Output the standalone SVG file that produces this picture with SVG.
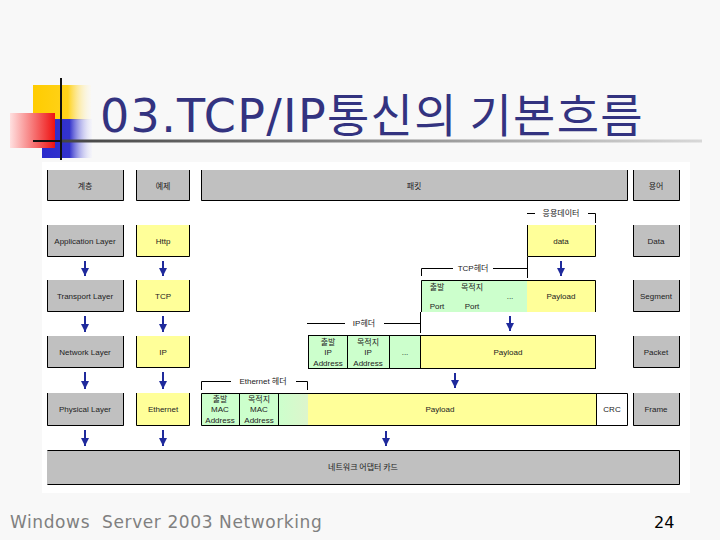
<svg xmlns="http://www.w3.org/2000/svg" width="720" height="540" viewBox="0 0 720 540">
<defs>
<linearGradient id="gY" x1="0" y1="0" x2="1" y2="0"><stop offset="0" stop-color="#ffcc00"/><stop offset="0.6" stop-color="#ffd21a"/><stop offset="1" stop-color="#fff8e0" stop-opacity="0.2"/></linearGradient>
<linearGradient id="gB" x1="0" y1="0" x2="1" y2="0"><stop offset="0" stop-color="#2a2acc"/><stop offset="0.55" stop-color="#3333cc"/><stop offset="1" stop-color="#e8e8ff" stop-opacity="0.2"/></linearGradient>
<linearGradient id="gR" x1="0" y1="0" x2="1" y2="0"><stop offset="0" stop-color="#ffe0e0"/><stop offset="1" stop-color="#ee1111"/></linearGradient>
<linearGradient id="gL" x1="0" y1="0" x2="1" y2="0"><stop offset="0" stop-color="#444444"/><stop offset="1" stop-color="#d8d8d8"/></linearGradient>
<linearGradient id="gG" x1="0" y1="0" x2="1" y2="0"><stop offset="0" stop-color="#ccffcc"/><stop offset="1" stop-color="#ddf5cc"/></linearGradient>
<marker id="ah" viewBox="0 0 8 8" refX="8" refY="4" markerWidth="8" markerHeight="8" markerUnits="userSpaceOnUse" orient="auto">
<path d="M0,0 L8,4 L0,8 Z" fill="#1f2a9c"/>
</marker>
</defs>
<style>
.gray{fill:#c0c0c0}
.yel{fill:#ffff99}
.grn{fill:#ccffcc}
.edge{fill:none;stroke:#000;stroke-width:1}
.box{stroke:#000;stroke-width:1}
.t{font-family:"Liberation Sans","Noto Sans CJK KR",sans-serif;font-size:8px;fill:#222;text-anchor:middle}
.k{font-family:"Noto Sans CJK KR","Liberation Sans",sans-serif;font-size:8px;fill:#222;text-anchor:middle}
.arr{stroke:#1f2a9c;stroke-width:2;fill:none;marker-end:url(#ah)}
.ann{stroke:#000;stroke-width:1;fill:none}
</style>
<rect x="0" y="0" width="720" height="540" fill="#f8f8f8"/>

<!-- logo -->
<g id="logo">
<rect x="33" y="85" width="58" height="35" fill="url(#gY)"/>
<rect x="42" y="119" width="50" height="39" fill="url(#gB)"/>
<rect x="10" y="113" width="45" height="35" fill="url(#gR)"/>
<rect x="60" y="78" width="2" height="82" fill="#111"/>
<rect x="33" y="140" width="30" height="2" fill="#111"/>
<rect x="62" y="139.5" width="640" height="3" fill="url(#gL)"/>
</g>
<text id="title" x="100" y="132" font-family="DejaVu Sans,'Noto Sans CJK KR',sans-serif" font-size="46" letter-spacing="1.3" fill="#333380">03.TCP/IP<tspan font-family="'Noto Sans CJK KR',sans-serif">통신의 기본흐름</tspan></text>

<!-- diagram area -->
<rect x="42" y="162" width="648" height="331" fill="#ffffff"/>

<!-- header row -->
<g id="h-layer"><rect class="gray" x="47" y="170" width="77" height="31"/><path class="edge" d="M47.5,170 V200.5 H123.5 V170"/><text class="k" x="85" y="189">계층</text></g>
<g id="h-ex"><rect class="gray" x="136" y="170" width="54" height="31"/><path class="edge" d="M136.5,170 V200.5 H189.5 V170"/><text class="k" x="163" y="189">예제</text></g>
<g id="h-packet"><rect class="gray" x="201" y="170" width="427" height="31"/><path class="edge" d="M201.5,170 V200.5 H627.5 V170"/><text class="k" x="414" y="189">패킷</text></g>
<g id="h-term"><rect class="gray" x="633" y="170" width="47" height="31"/><path class="edge" d="M633.5,170 V200.5 H679.5 V170"/><text class="k" x="656" y="189">용어</text></g>

<!-- row 1 -->
<g id="app-layer"><rect class="gray" x="47" y="225" width="77" height="32"/><path class="edge" d="M47.5,225 V256.5 H123.5 V225"/><text class="t" x="85" y="244">Application Layer</text></g>
<g id="http"><rect class="yel" x="136" y="225" width="54" height="32"/><path class="edge" d="M136.5,225 V256.5 H189.5 V225"/><text class="t" x="163" y="244">Http</text></g>
<g id="data"><rect class="yel" x="527" y="225" width="69" height="32"/><path class="edge" d="M527.5,225 V256.5 H595.5 V225"/><text class="t" x="561" y="244">data</text></g>
<g id="t-data"><rect class="gray" x="633" y="225" width="47" height="32"/><path class="edge" d="M633.5,225 V256.5 H679.5 V225"/><text class="t" x="656" y="244">Data</text></g>

<!-- row 2 -->
<g id="transport-layer"><rect class="gray" x="47" y="280" width="77" height="32"/><path class="edge" d="M47.5,280 V311.5 H123.5 V280"/><text class="t" x="85" y="299">Transport Layer</text></g>
<g id="tcp"><rect class="yel" x="136" y="280" width="54" height="32"/><path class="edge" d="M136.5,280 V311.5 H189.5 V280"/><text class="t" x="163" y="299">TCP</text></g>
<g id="segment">
<rect class="grn" x="421" y="280" width="106" height="32"/>
<rect class="yel" x="527" y="280" width="69" height="32"/>
<path class="edge" d="M421.5,312 V280.5 H595.5 V312"/>
<text class="k" x="437" y="290">출발</text><text class="t" x="437" y="309">Port</text>
<text class="k" x="472" y="290">목적지</text><text class="t" x="472" y="309">Port</text>
<text class="t" x="510" y="299">...</text>
<text class="t" x="561" y="299">Payload</text>
</g>
<g id="t-segment"><rect class="gray" x="633" y="280" width="47" height="32"/><path class="edge" d="M633.5,280 V311.5 H679.5 V280"/><text class="t" x="656" y="299">Segment</text></g>

<!-- row 3 -->
<g id="network-layer"><rect class="gray" x="47" y="336" width="77" height="32"/><path class="edge" d="M47.5,336 V367.5 H123.5 V336"/><text class="t" x="85" y="355">Network Layer</text></g>
<g id="ip"><rect class="yel" x="136" y="336" width="54" height="32"/><path class="edge" d="M136.5,336 V367.5 H189.5 V336"/><text class="t" x="163" y="355">IP</text></g>
<g id="packet">
<rect class="grn box" x="308.5" y="335.5" width="39" height="33"/>
<rect class="grn box" x="347.5" y="335.5" width="42" height="33"/>
<rect class="grn box" x="389.5" y="335.5" width="31" height="33"/>
<rect class="yel box" x="420.5" y="335.5" width="175" height="33"/>
<text class="k" x="328" y="345">출발</text><text class="t" x="328" y="355">IP</text><text class="t" x="328" y="366">Address</text>
<text class="k" x="368" y="345">목적지</text><text class="t" x="368" y="355">IP</text><text class="t" x="368" y="366">Address</text>
<text class="t" x="405" y="355">...</text>
<text class="t" x="508" y="355">Payload</text>
</g>
<g id="t-packet"><rect class="gray" x="633" y="336" width="47" height="32"/><path class="edge" d="M633.5,336 V367.5 H679.5 V336"/><text class="t" x="656" y="355">Packet</text></g>

<!-- row 4 -->
<g id="physical-layer"><rect class="gray" x="47" y="393" width="77" height="33"/><path class="edge" d="M47.5,393 V425.5 H123.5 V393"/><text class="t" x="85" y="412">Physical Layer</text></g>
<g id="ethernet"><rect class="yel" x="136" y="393" width="54" height="33"/><path class="edge" d="M136.5,393 V425.5 H189.5 V393"/><text class="t" x="163" y="412">Ethernet</text></g>
<g id="frame">
<rect class="grn" x="201" y="393" width="77" height="33"/>
<rect fill="url(#gG)" x="278" y="393" width="30" height="33"/>
<rect class="yel" x="308" y="393" width="288" height="33"/>
<rect fill="#ffffff" x="596" y="393" width="32" height="33"/>
<path class="edge" d="M201.5,393.5 H627.5 V425.5 H201.5 Z M239.5,393.5 V425.5 M278.5,393.5 V425.5 M596.5,393.5 V425.5"/>
<text class="k" x="220" y="402">출발</text><text class="t" x="220" y="412">MAC</text><text class="t" x="220" y="423">Address</text>
<text class="k" x="259" y="402">목적지</text><text class="t" x="259" y="412">MAC</text><text class="t" x="259" y="423">Address</text>
<text class="t" x="440" y="412">Payload</text>
<text class="t" x="612" y="412">CRC</text>
</g>
<g id="t-frame"><rect class="gray" x="633" y="393" width="47" height="33"/><path class="edge" d="M633.5,393 V425.5 H679.5 V393"/><text class="t" x="656" y="412">Frame</text></g>

<!-- row 5 -->
<g id="adapter"><rect class="gray" x="47" y="450" width="633" height="35"/><path class="edge" d="M47.5,450.5 H679.5 V484.5 H47.5"/><text class="k" x="363" y="470">네트워크 어댑터 카드</text></g>

<!-- annotations -->
<g id="annotations">
<path class="ann" d="M527,213.5 H535 M588,213.5 H595.5 V223"/>
<text class="k" x="561" y="216">응용데이터</text>
<path class="ann" d="M421.5,276 V268.5 H453 M493,268.5 H527.5 M527.5,257 V278"/>
<text class="t" x="473" y="271">TCP헤더</text>
<path class="ann" d="M307,323.5 H345 M384,323.5 H420.5 M420.5,312 V333"/>
<text class="t" x="364" y="326">IP헤더</text>
<path class="ann" d="M201.5,390 V381.5 H231 M296,381.5 H307.5 V390"/>
<text class="t" x="263" y="384">Ethernet 헤더</text>
</g>

<!-- connectors -->
<g id="connectors">
<line class="arr" x1="85" y1="261" x2="85" y2="276"/>
<line class="arr" x1="163" y1="261" x2="163" y2="276"/>
<line class="arr" x1="561" y1="261" x2="561" y2="276"/>
<line class="arr" x1="85" y1="316" x2="85" y2="332"/>
<line class="arr" x1="163" y1="316" x2="163" y2="332"/>
<line class="arr" x1="510" y1="316" x2="510" y2="331"/>
<line class="arr" x1="85" y1="372" x2="85" y2="389"/>
<line class="arr" x1="163" y1="372" x2="163" y2="389"/>
<line class="arr" x1="455" y1="373" x2="455" y2="388"/>
<line class="arr" x1="85" y1="430" x2="85" y2="446"/>
<line class="arr" x1="163" y1="430" x2="163" y2="446"/>
<line class="arr" x1="386" y1="431" x2="386" y2="446"/>
</g>

<!-- footer -->
<text x="10" y="528" font-family="DejaVu Sans,sans-serif" font-size="17" letter-spacing="0.6" fill="#808080" xml:space="preserve">Windows  Server 2003 Networking</text>
<text x="654" y="528" font-family="DejaVu Sans,sans-serif" font-size="16" fill="#000">24</text>
</svg>
